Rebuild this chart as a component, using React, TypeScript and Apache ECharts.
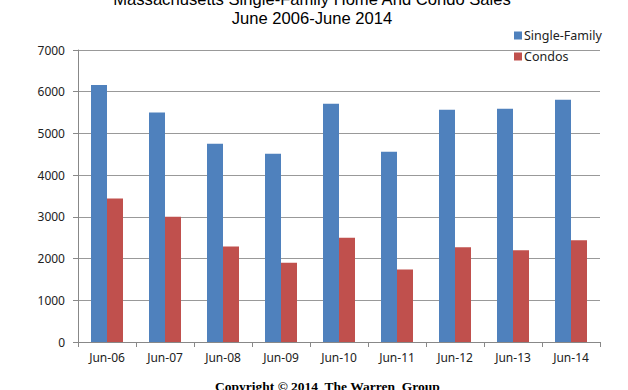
import React, { useEffect, useRef } from "react";
import * as echarts from "echarts";

const categories = ["Jun-06", "Jun-07", "Jun-08", "Jun-09", "Jun-10", "Jun-11", "Jun-12", "Jun-13", "Jun-14"];
const singleFamily = [6160, 5500, 4750, 4510, 5710, 4560, 5570, 5590, 5810];
const condos = [3440, 3000, 2290, 1900, 2500, 1740, 2270, 2200, 2440];
const yTicks = { min: 0, max: 7000, interval: 1000 };
const titleLines = ["Massachusetts Single-Family Home And Condo Sales", "June 2006-June 2014"];
const copyright = "Copyright \u00A9 2014  The Warren  Group";

export default function App() {
  const ref = useRef<HTMLDivElement>(null);
  useEffect(() => {
    if (!ref.current) return;
    const chart = echarts.init(ref.current, null, { renderer: "svg" });
    const axisFont = { fontFamily: "Noto Sans", fontSize: 12, color: "#222" };
    chart.setOption({
      animation: false,
      backgroundColor: "#ffffff",
      title: {
        text: titleLines.join("\n"),
        left: 307,
        top: -15,
        textAlign: "center",
        textStyle: {
          fontFamily: "Liberation Sans",
          fontSize: 16.6,
          fontWeight: "normal",
          lineHeight: 19,
          color: "#000",
        },
      },
      legend: {
        orient: "vertical",
        left: 509,
        top: 24,
        itemWidth: 8,
        itemHeight: 8,
        itemGap: 8,
        icon: "rect",
        textStyle: { fontFamily: "Noto Sans", fontSize: 12.5, color: "#222", padding: [0, 0, 0, -3] },
        data: ["Single-Family", "Condos"],
      },
      grid: { left: 78, right: 28, top: 50, bottom: 48, containLabel: false },
      xAxis: {
        type: "category",
        data: categories,
        axisLine: { lineStyle: { color: "#888", width: 1 } },
        axisTick: { show: true, length: 5, lineStyle: { color: "#888" } },
        axisLabel: { ...axisFont, margin: 9 },
      },
      yAxis: {
        type: "value",
        min: yTicks.min,
        max: yTicks.max,
        interval: yTicks.interval,
        axisLine: { show: true, lineStyle: { color: "#888", width: 1 } },
        axisTick: { show: true, length: 5, lineStyle: { color: "#888" } },
        axisLabel: { ...axisFont, margin: 13, formatter: (v: number) => String(v) },
        splitLine: { lineStyle: { color: "#999", width: 1 } },
      },
      series: [
        {
          name: "Single-Family",
          type: "bar",
          data: singleFamily,
          barWidth: 16,
          barGap: "0%",
          itemStyle: { color: "#4F81BD" },
        },
        {
          name: "Condos",
          type: "bar",
          data: condos,
          barWidth: 16,
          itemStyle: { color: "#C0504D" },
        },
      ],
      graphic: [
        {
          type: "text",
          left: 215,
          top: 379,
          style: {
            text: copyright,
            font: "bold 13.5px 'Liberation Serif'",
            fill: "#000",
          },
        },
      ],
    });
    return () => chart.dispose();
  }, []);
  return <div ref={ref} style={{ width: 628, height: 390, position: "fixed", left: 0, top: 0 }} />;
}
